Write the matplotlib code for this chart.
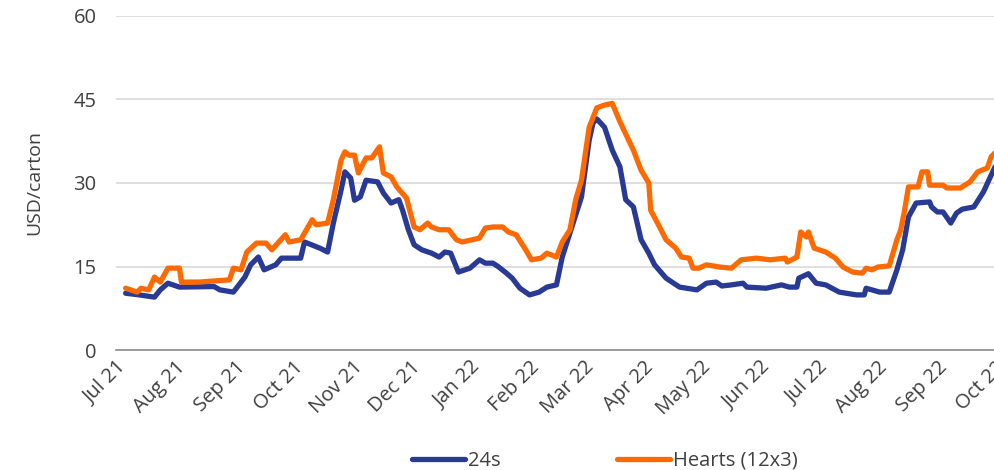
import numpy as np
import pandas as pd
import matplotlib
matplotlib.use('Agg')
import matplotlib.pyplot as plt
import matplotlib.dates as mdates

plt.rcParams['font.family'] = ['Open Sans', 'DejaVu Sans']

# 24s series (USD/carton)
dates_24s = ['2021-07-06', '2021-07-13', '2021-07-21', '2021-07-24', '2021-07-28', '2021-08-03',
             '2021-08-21', '2021-08-24', '2021-08-31', '2021-09-06', '2021-09-09', '2021-09-13',
             '2021-09-16', '2021-09-22', '2021-09-25', '2021-10-05', '2021-10-07', '2021-10-15',
             '2021-10-19', '2021-10-22', '2021-10-26', '2021-10-28', '2021-10-31', '2021-11-02',
             '2021-11-05', '2021-11-08', '2021-11-14', '2021-11-17', '2021-11-21', '2021-11-25',
             '2021-11-27', '2021-11-30', '2021-12-03', '2021-12-07', '2021-12-12', '2021-12-16',
             '2021-12-19', '2021-12-22', '2021-12-26', '2022-01-01', '2022-01-06', '2022-01-09',
             '2022-01-13', '2022-01-16', '2022-01-20', '2022-01-23', '2022-01-27', '2022-02-01',
             '2022-02-06', '2022-02-10', '2022-02-15', '2022-02-18', '2022-02-23', '2022-02-28',
             '2022-03-04', '2022-03-06', '2022-03-08', '2022-03-12', '2022-03-16', '2022-03-20',
             '2022-03-23', '2022-03-27', '2022-03-31', '2022-04-04', '2022-04-07', '2022-04-13',
             '2022-04-20', '2022-04-29', '2022-05-04', '2022-05-09', '2022-05-12', '2022-05-17',
             '2022-05-23', '2022-05-25', '2022-06-04', '2022-06-12', '2022-06-16', '2022-06-20',
             '2022-06-21', '2022-06-26', '2022-06-30', '2022-07-05', '2022-07-12', '2022-07-21',
             '2022-07-25', '2022-07-26', '2022-08-02', '2022-08-07', '2022-08-11', '2022-08-14',
             '2022-08-17', '2022-08-21', '2022-08-28', '2022-08-29', '2022-09-01', '2022-09-04',
             '2022-09-08', '2022-09-11', '2022-09-14', '2022-09-20', '2022-09-25', '2022-10-01']
vals_24s = [10.2, 9.9, 9.5, 10.8, 12.0, 11.3,
            11.4, 10.8, 10.4, 13.1, 15.3, 16.7,
            14.4, 15.3, 16.5, 16.5, 19.4, 18.3,
            17.6, 22.8, 28.7, 32.0, 30.9, 26.9,
            27.5, 30.5, 30.2, 28.2, 26.4, 27.0,
            25.1, 21.6, 18.9, 18.0, 17.4, 16.7,
            17.6, 17.4, 14.0, 14.7, 16.2, 15.6,
            15.6, 14.9, 13.8, 12.9, 11.1, 9.9,
            10.4, 11.3, 11.7, 16.7, 22.1, 27.5,
            37.7, 40.8, 41.5, 40.0, 35.9, 32.9,
            27.0, 25.7, 19.8, 17.4, 15.3, 12.9,
            11.3, 10.8, 12.0, 12.2, 11.5, 11.7,
            12.0, 11.3, 11.1, 11.7, 11.3, 11.3,
            12.9, 13.7, 12.0, 11.7, 10.4, 9.9,
            9.9, 11.1, 10.4, 10.4, 14.4, 18.0,
            23.9, 26.4, 26.6, 25.7, 24.8, 24.8,
            22.8, 24.6, 25.3, 25.7, 28.4, 32.9]

# Hearts (12x3) series (USD/carton)
dates_hearts = ['2021-07-06', '2021-07-12', '2021-07-14', '2021-07-18', '2021-07-21', '2021-07-24',
                '2021-07-28', '2021-08-03', '2021-08-04', '2021-08-13', '2021-08-29', '2021-08-31',
                '2021-09-04', '2021-09-07', '2021-09-12', '2021-09-17', '2021-09-20', '2021-09-27',
                '2021-09-29', '2021-10-05', '2021-10-11', '2021-10-13', '2021-10-19', '2021-10-22',
                '2021-10-26', '2021-10-28', '2021-10-30', '2021-11-02', '2021-11-04', '2021-11-08',
                '2021-11-11', '2021-11-15', '2021-11-17', '2021-11-21', '2021-11-24', '2021-11-29',
                '2021-12-03', '2021-12-06', '2021-12-10', '2021-12-12', '2021-12-16', '2021-12-21',
                '2021-12-25', '2021-12-28', '2022-01-06', '2022-01-09', '2022-01-13', '2022-01-18',
                '2022-01-21', '2022-01-25', '2022-01-30', '2022-02-02', '2022-02-07', '2022-02-10',
                '2022-02-15', '2022-02-18', '2022-02-22', '2022-02-25', '2022-02-28', '2022-03-04',
                '2022-03-08', '2022-03-12', '2022-03-16', '2022-03-20', '2022-03-27', '2022-03-31',
                '2022-04-04', '2022-04-05', '2022-04-09', '2022-04-13', '2022-04-18', '2022-04-21',
                '2022-04-25', '2022-04-27', '2022-04-30', '2022-05-04', '2022-05-11', '2022-05-17',
                '2022-05-22', '2022-05-30', '2022-06-06', '2022-06-14', '2022-06-15', '2022-06-20',
                '2022-06-22', '2022-06-25', '2022-06-26', '2022-06-29', '2022-07-05', '2022-07-10',
                '2022-07-14', '2022-07-19', '2022-07-24', '2022-07-26', '2022-07-29', '2022-08-01',
                '2022-08-07', '2022-08-11', '2022-08-13', '2022-08-15', '2022-08-17', '2022-08-22',
                '2022-08-24', '2022-08-27', '2022-08-28', '2022-09-04', '2022-09-06', '2022-09-13',
                '2022-09-18', '2022-09-22', '2022-09-27', '2022-09-29', '2022-10-01']
vals_hearts = [11.1, 10.4, 11.1, 10.8, 13.1, 12.2,
               14.7, 14.7, 12.2, 12.2, 12.6, 14.7,
               14.4, 17.6, 19.2, 19.2, 18.0, 20.7,
               19.4, 19.8, 23.4, 22.5, 22.8, 27.0,
               34.1, 35.6, 35.0, 35.0, 31.8, 34.5,
               34.5, 36.5, 31.8, 31.1, 29.3, 27.3,
               22.1, 21.6, 22.8, 22.1, 21.6, 21.6,
               19.8, 19.4, 20.1, 21.9, 22.1, 22.1,
               21.2, 20.7, 18.0, 16.2, 16.5, 17.4,
               16.7, 19.4, 21.6, 27.0, 30.5, 40.0,
               43.5, 44.0, 44.3, 41.0, 35.9, 32.3,
               30.0, 25.1, 22.5, 19.8, 18.3, 16.7,
               16.5, 14.7, 14.7, 15.3, 14.9, 14.7,
               16.2, 16.5, 16.2, 16.5, 15.8, 16.7,
               21.2, 20.3, 21.2, 18.3, 17.6, 16.5,
               14.9, 14.0, 13.8, 14.7, 14.4, 14.9,
               15.1, 19.8, 21.6, 25.1, 29.3, 29.3,
               32.0, 32.0, 29.6, 29.6, 29.1, 29.1,
               30.2, 32.0, 32.7, 34.7, 35.4]

y_ticks = [0, 15, 30, 45, 60]

col_blue = '#283a94'
col_orange = '#ff6a00'
txt_col = '#404040'

fig = plt.figure(figsize=(9.95, 4.7), dpi=100)
ax = fig.add_axes([0.1166, 0.2553, 0.8834, 0.7107])

ax.plot(pd.to_datetime(dates_24s), vals_24s, color=col_blue, lw=3.8,
        solid_joinstyle='round', solid_capstyle='round', label='24s')
ax.plot(pd.to_datetime(dates_hearts), vals_hearts, color=col_orange, lw=3.8,
        solid_joinstyle='round', solid_capstyle='round', label='Hearts (12x3)')

ax.set_xlim(pd.Timestamp('2021-07-01'), pd.Timestamp('2022-10-01'))
ax.set_ylim(0, 60)
ax.set_yticks(y_ticks)
ax.yaxis.grid(True, color='#d9d9d9', lw=1.2)
ax.set_axisbelow(True)
for s in ['top', 'right', 'left']:
    ax.spines[s].set_visible(False)
ax.spines['bottom'].set_color('#8c8c8c')
ax.spines['bottom'].set_linewidth(1.2)
ax.tick_params(axis='both', length=0, labelsize=14.5, colors=txt_col)
ax.tick_params(axis='y', pad=14)
ax.tick_params(axis='x', pad=5)

ax.xaxis.set_major_locator(mdates.MonthLocator())
ax.xaxis.set_major_formatter(mdates.DateFormatter('%b %y'))
for lab in ax.get_xticklabels():
    lab.set_rotation(45)
    lab.set_ha('right')
    lab.set_rotation_mode('anchor')

ax.set_ylabel('USD/carton', fontsize=14, color=txt_col, labelpad=22)

fig.legend(loc='center', bbox_to_anchor=(0.608, 0.02), ncol=2, frameon=False,
           fontsize=14.5, handlelength=2.6, handletextpad=0.15, columnspacing=5.8,
           labelcolor=txt_col)

fig.savefig('out.png', dpi=100)
